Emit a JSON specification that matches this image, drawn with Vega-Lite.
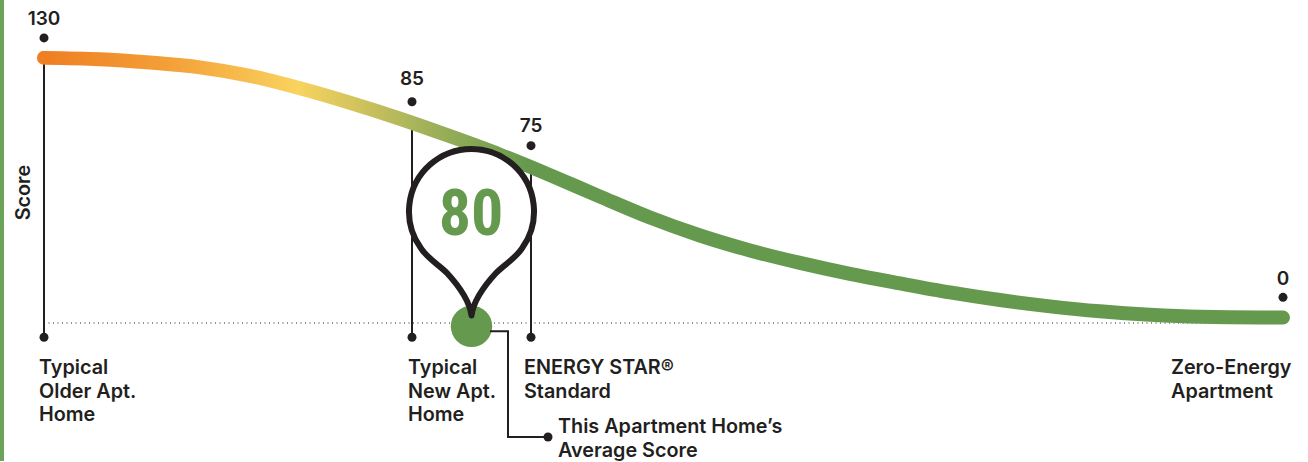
{
"$schema":"https://vega.github.io/schema/vega-lite/v6.json",
"autosize":{"type":"fit","contains":"padding"},
"width":1308,"height":462,"padding":0,"background":"white",
"view":{"stroke":null},
"datasets":{
"curve":[{"pos":44,"score":130},{"pos":100,"score":129.35},{"pos":150,"score":127.65},{"pos":200,"score":125.25},{"pos":250,"score":121},{"pos":300,"score":114.75},{"pos":350,"score":107.5},{"pos":400,"score":99.5},{"pos":450,"score":90.75},{"pos":500,"score":81.5},{"pos":550,"score":71.25},{"pos":600,"score":60.5},{"pos":650,"score":50},{"pos":700,"score":41},{"pos":750,"score":33.5},{"pos":800,"score":27.25},{"pos":850,"score":21.75},{"pos":900,"score":17},{"pos":950,"score":12.5},{"pos":1000,"score":8.65},{"pos":1050,"score":5.5},{"pos":1100,"score":3},{"pos":1150,"score":1.25},{"pos":1200,"score":0.25},{"pos":1283,"score":-0.15}],
"stems":[{"pos":44,"top":130,"bottom":-10},{"pos":412,"top":96.5,"bottom":-10},{"pos":531,"top":75.5,"bottom":-10}],
"dots":[{"pos":44,"score":-10},{"pos":412,"score":-10},{"pos":531,"score":-10},{"pos":44,"score":140},{"pos":412,"score":108},{"pos":531,"score":86},{"pos":1283,"score":10},{"pos":548,"score":-60}],
"connector":[{"pos":490,"score":-7,"o":1},{"pos":508,"score":-7,"o":2},{"pos":508,"score":-60,"o":3},{"pos":548,"score":-60,"o":4}],
"values":[{"pos":44,"score":149.3,"label":"130"},{"pos":412,"score":119.3,"label":"85"},{"pos":531,"score":95.8,"label":"75"},{"pos":1283,"score":19,"label":"0"}],
"notes":[{"pos":39,"score":-25.2,"label":"Typical"},{"pos":39,"score":-37.2,"label":"Older Apt."},{"pos":39,"score":-49.2,"label":"Home"},{"pos":408,"score":-25.2,"label":"Typical"},{"pos":408,"score":-37.2,"label":"New Apt."},{"pos":408,"score":-49.2,"label":"Home"},{"pos":524,"score":-25.2,"label":"ENERGY STAR®"},{"pos":524,"score":-37.2,"label":"Standard"},{"pos":1171,"score":-25.2,"label":"Zero-Energy"},{"pos":1171,"score":-37.2,"label":"Apartment"},{"pos":558,"score":-55.2,"label":"This Apartment Home’s"},{"pos":558,"score":-67.2,"label":"Average Score"}]
},
"encoding":{
"x":{"field":"pos","type":"quantitative","scale":{"domain":[0,1308],"nice":false,"zero":false},"axis":null},
"y":{"field":"score","type":"quantitative","scale":{"domain":[-72,159],"nice":false,"zero":false},"axis":null}
},
"layer":[
{"data":{"values":[{"pos":0,"end":4,"score":-72,"top":159}]},"mark":{"type":"rect","color":"#6BA35A"},"encoding":{"x2":{"field":"end"},"y2":{"field":"top"}}},
{"data":{"values":[{"pos":44,"end":1283,"score":-2.85}]},"mark":{"type":"rule","color":"#231F20","strokeWidth":1.2,"strokeDash":[1,3.5]},"encoding":{"x2":{"field":"end"}}},
{"data":{"name":"stems"},"mark":{"type":"rule","color":"#231F20","strokeWidth":2},"encoding":{"y":{"field":"top","type":"quantitative"},"y2":{"field":"bottom"}}},
{"data":{"name":"curve"},"mark":{"type":"line","interpolate":"monotone","strokeWidth":14,"strokeCap":"round","strokeJoin":"round","stroke":{"gradient":"linear","x1":0,"y1":0,"x2":1,"y2":0,"stops":[{"offset":0,"color":"#EE7F22"},{"offset":0.1,"color":"#F49F38"},{"offset":0.205,"color":"#F9D35E"},{"offset":0.3,"color":"#A9B45B"},{"offset":0.39,"color":"#659A4E"},{"offset":1,"color":"#659A4E"}]}}},
{"data":{"values":[{"pos":471.5,"score":-4.5}]},"mark":{"type":"point","shape":"circle","filled":true,"color":"#659A4E","opacity":1,"size":1714}},
{"data":{"name":"connector"},"mark":{"type":"line","color":"#231F20","strokeWidth":2,"strokeJoin":"miter"},"encoding":{"order":{"field":"o","type":"ordinal"}}},
{"data":{"values":[{"pos":471.5,"score":52.5}]},"mark":{"type":"point","shape":"M0,1.03 C-0.02,0.88 -0.12,0.74 -0.25,0.6 C-0.33,0.52 -0.44,0.46 -0.51,0.35 A0.625,0.625 0 1 1 0.51,0.35 C0.44,0.46 0.33,0.52 0.25,0.6 C0.12,0.74 0.02,0.88 0,1.03 Z","filled":false,"fill":"#ffffff","fillOpacity":1,"stroke":"#231F20","strokeWidth":6,"strokeJoin":"round","opacity":1,"size":40000}},
{"data":{"name":"dots"},"mark":{"type":"point","shape":"circle","filled":true,"color":"#231F20","opacity":1,"size":81}},
{"data":{"name":"values"},"mark":{"type":"text","font":"Inter","fontWeight":600,"fontSize":19,"color":"#231F20","align":"center","baseline":"middle"},"encoding":{"text":{"field":"label"}}},
{"data":{"name":"notes"},"mark":{"type":"text","font":"Inter","fontWeight":600,"fontSize":19.8,"color":"#231F20","align":"left","baseline":"middle"},"encoding":{"text":{"field":"label"}}},
{"data":{"values":[{"pos":24,"score":62.5,"label":"Score"}]},"mark":{"type":"text","font":"Inter","fontWeight":600,"fontSize":19.8,"color":"#231F20","align":"center","baseline":"middle","angle":270},"encoding":{"text":{"field":"label"}}},
{"data":{"values":[{"pos":471,"score":51,"label":"80"}]},"mark":{"type":"text","font":"Roboto Condensed, Open Sans Condensed, DejaVu Sans Condensed, Roboto","fontWeight":"bold","fontSize":64,"color":"#659A4E","align":"center","baseline":"middle"},"encoding":{"text":{"field":"label"}}}
]
}
